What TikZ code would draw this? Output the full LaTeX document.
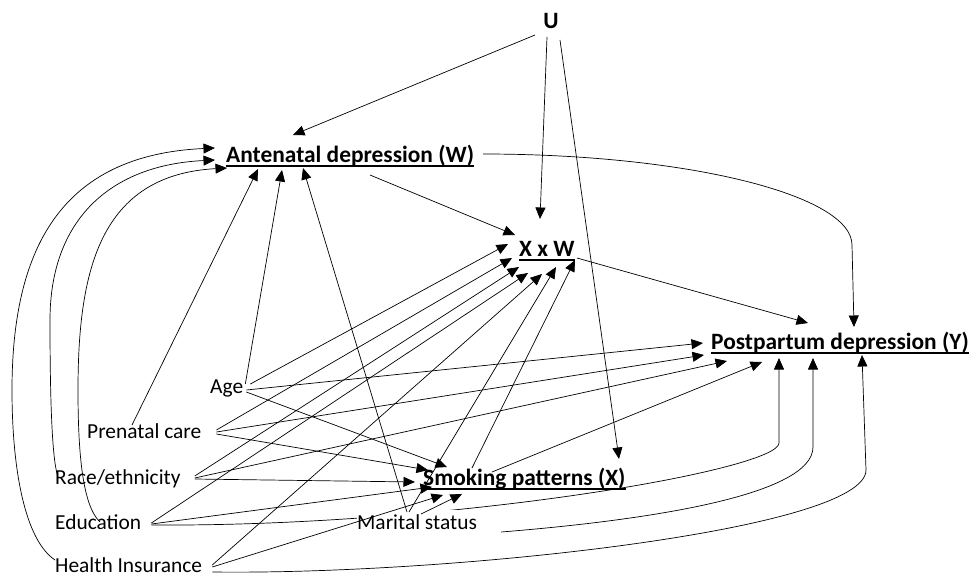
\documentclass[tikz,border=0pt]{standalone}
\usepackage{fontspec}
\setmainfont{Carlito}
\usetikzlibrary{arrows.meta}

\tikzset{
  var/.style={inner sep=0pt, anchor=base west, font=\fontsize{21.4}{24}\selectfont},
  keyvar/.style={inner sep=0pt, anchor=base west, font=\fontsize{23.4}{26}\selectfont\bfseries},
  arr/.style={line width=0.7pt, -{Triangle[length=11.5pt,width=10pt]}},
}
\newcommand{\underrule}[1]{
  \draw[line width=1.8pt] ([yshift=-4pt]#1.base west) -- ([yshift=-4pt]#1.base east);
}

\begin{document}
\begin{tikzpicture}[x=1pt,y=-1pt]
  \useasboundingbox (0,0) rectangle (970,576);
  % key variables
  \node[keyvar, anchor=base] (U) at (551,28) {U};
  \node[keyvar] (W) at (226,162) {Antenatal depression (W)};
  \node[keyvar] (XW) at (519,256) {X x W};
  \node[keyvar] (Y) at (711,349) {Postpartum depression (Y)};
  \node[keyvar] (X) at (423,485) {Smoking patterns (X)};
  \foreach \n in {W,XW,Y,X}{\underrule{\n}}
  % covariates
  \node[var] (age) at (210,393) {Age};
  \node[var] (pren) at (87,438) {Prenatal care};
  \node[var] (race) at (55,484) {Race/ethnicity};
  \node[var] (edu) at (55,529) {Education};
  \node[var] (hi) at (55,572) {Health Insurance};
  % Education -> Y runs behind the Marital status box
  \draw[arr] ([shift={(10,-4)}]edu.base east) .. controls +(299,2) and +(0,27) .. ([shift={(68,94)}]Y.base west) -- ([shift={(68,9)}]Y.base west);
  \node[var, fill=white, inner ysep=4pt] (mar) at (357,529) {Marital status};

  % U
  \draw[arr] ([shift={(-16,7)}]U.base) -- ([shift={(67,-27)}]W.base west);
  \draw[arr] ([shift={(-4,9)}]U.base) -- ([shift={(21,-37)}]XW.base west);
  \draw[arr] ([shift={(9,12)}]U.base) -- ([shift={(196,-26)}]X.base west);
  % W and X x W
  \draw[arr] ([shift={(144,13)}]W.base west) -- ([shift={(-4,-21)}]XW.base west);
  \draw[arr] ([shift={(257,-8)}]W.base west) .. controls +(204,0) and +(0,-50) .. ([shift={(141,-104)}]Y.base west) -- ([shift={(143,-22)}]Y.base west);
  \draw[arr] ([shift={(58,2)}]XW.base west) -- ([shift={(97,-26)}]Y.base west);
  % Age
  \draw[arr] ([shift={(2,-9)}]age.base east) -- ([shift={(56,8)}]W.base west);
  \draw[arr] ([shift={(7,-9)}]age.base east) -- ([shift={(-11,-12)}]XW.base west);
  \draw[arr] ([shift={(3,-3)}]age.base east) -- ([shift={(-8,-6)}]Y.base west);
  \draw[arr] ([shift={(3,-1)}]age.base east) -- ([shift={(24,-18)}]X.base west);
  % Prenatal care
  \draw[arr] ([shift={(45,-13)}]pren.base west) -- ([shift={(32,7)}]W.base west);
  \draw[arr] ([shift={(15,-8)}]pren.base east) -- ([shift={(-7,2)}]XW.base west);
  \draw[arr] ([shift={(15,-6)}]pren.base east) -- ([shift={(-7,6)}]Y.base west);
  \draw[arr] ([shift={(15,-4)}]pren.base east) -- ([shift={(5,-15)}]X.base west);
  % Race/ethnicity
  \draw[arr] ([shift={(3,-7)}]race.base west) .. controls +(-6,-17) and +(0,80) .. ([shift={(-5,-164)}]race.base west)
    .. controls +(0,-100) and +(-105,5) .. ([shift={(-11,-2)}]W.base west);
  \draw[arr] ([shift={(14,-8)}]race.base east) -- ([shift={(0,11)}]XW.base west);
  \draw[arr] ([shift={(14,-6)}]race.base east) -- ([shift={(16,12)}]Y.base west);
  \draw[arr] ([shift={(14,-5)}]race.base east) -- ([shift={(-8,-3)}]X.base west);
  % Education
  \draw[arr] ([shift={(45,-7)}]edu.base west) .. controls +(-18,-17) and +(0,60) .. ([shift={(23,-139)}]edu.base west)
    .. controls +(0,-120) and +(-127,7) .. ([shift={(1,6)}]W.base west);
  \draw[arr] ([shift={(10,-6)}]edu.base east) -- ([shift={(9,17)}]XW.base west);
  \draw[arr] ([shift={(10,-5)}]edu.base east) -- ([shift={(9,2)}]X.base west);
  % Health Insurance
  \draw[arr] ([shift={(0,-12)}]hi.base west) .. controls +(-30,-20) and +(0,80) .. ([shift={(-43,-182)}]hi.base west)
    .. controls +(0,-140) and +(-155,7) .. ([shift={(-11,-14)}]W.base west);
  \draw[arr] ([shift={(10,-7)}]hi.base east) -- ([shift={(23,18)}]XW.base west);
  \draw[arr] ([shift={(10,-5)}]hi.base east) -- ([shift={(20,10)}]X.base west);
  \draw[arr] ([shift={(10,0)}]hi.base east) .. controls +(238,3) and +(0,60) .. ([shift={(155,121)}]Y.base west) -- ([shift={(151,6)}]Y.base west);
  % Marital status
  \draw[arr] ([shift={(50,-17)}]mar.base west) -- ([shift={(77,6)}]W.base west);
  \draw[arr] ([shift={(52,-17)}]mar.base west) -- ([shift={(37,11)}]XW.base west);
  \draw[arr] ([shift={(64,-15)}]mar.base west) -- ([shift={(39,9)}]X.base west);
  \draw[arr] ([shift={(24,3)}]mar.base east) .. controls +(149,-12) and +(0,48) .. ([shift={(102,98)}]Y.base west) -- ([shift={(102,9)}]Y.base west);
  % Smoking patterns
  \draw[arr] ([shift={(49,-17)}]X.base west) -- ([shift={(56,4)}]XW.base west);
  \draw[arr] ([shift={(69,-13)}]X.base west) -- ([shift={(51,13)}]Y.base west);
\end{tikzpicture}
\end{document}
